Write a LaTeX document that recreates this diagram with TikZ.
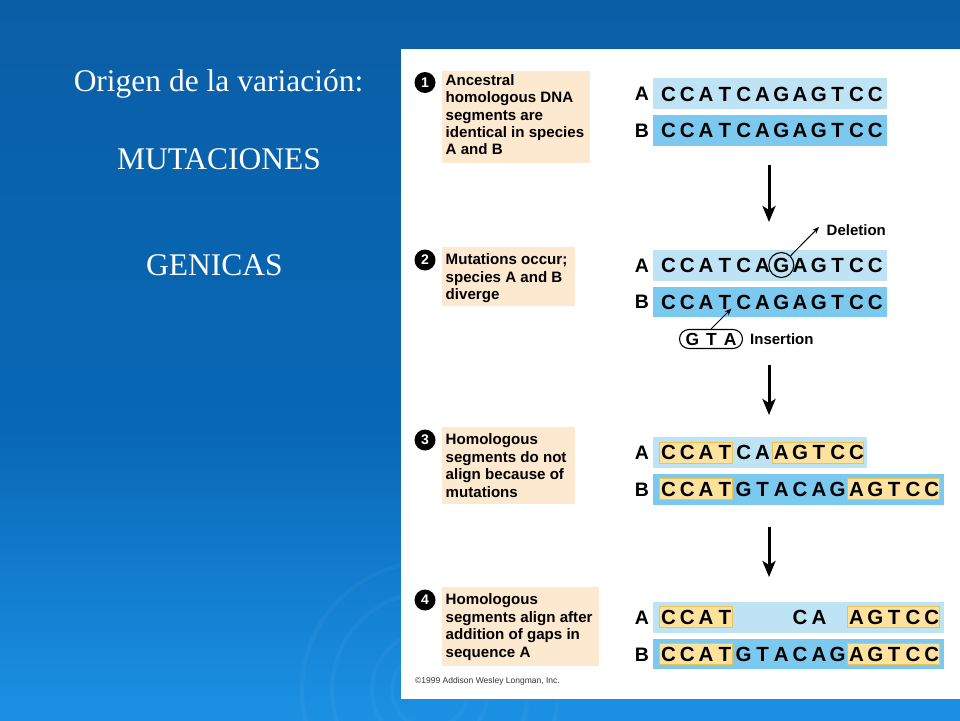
\documentclass[tikz,border=0pt]{standalone}
\usepackage{fontspec}
\setmainfont{Liberation Serif}
\newfontfamily\arial{Liberation Sans}
\usetikzlibrary{arrows.meta,shapes.misc}

\definecolor{bgtop}{HTML}{0A5EA6}
\definecolor{bgmid}{HTML}{0868B6}
\definecolor{bgbot}{HTML}{1C91E4}
\definecolor{tanfill}{HTML}{FDE8D0}
\definecolor{rowAfill}{HTML}{BDE3F5}
\definecolor{rowBfill}{HTML}{7BC9EE}
\definecolor{hifill}{HTML}{FCE29C}
\definecolor{hidraw}{HTML}{EEC150}

\newcommand{\seqrow}[3]{\foreach \ch/\p in {#3}{\node[seqtxt] (#1-\p) at ({668.5+18.8*\p},{#2+7.3}) {\ch};}}
\newcommand{\hlbox}[3]{\fill[hilite] ({668.5+18.8*#2-9.3},{#1-10.5}) rectangle ({668.5+18.8*#3+7.3},{#1+10.5});}
\newcommand{\tanlines}[4]{\foreach \t [count=\k from 0] in {#4}{\node[tantext] (#1-\k) at (445.5,{#2+#3*\k}) {\t};}}

\begin{document}
\begin{tikzpicture}[x=1pt,y=-1pt,
  titletxt/.style={text=white,font=\fontsize{31.5}{33}\selectfont,anchor=base,inner sep=0pt},
  tantext/.style={font=\arial\bfseries\fontsize{15.1}{17}\selectfont,anchor=base west,inner sep=0pt},
  tanbox/.style={fill=tanfill},
  stepnum/.style={circle,fill=black,text=white,font=\arial\bfseries\fontsize{14}{14}\selectfont,minimum size=21pt,inner sep=0pt},
  seqtxt/.style={font=\arial\bfseries\fontsize{20.5}{21}\selectfont,anchor=base,inner sep=0pt},
  labtxt/.style={font=\arial\bfseries\fontsize{19.5}{20}\selectfont,anchor=base,inner sep=0pt},
  rowa/.style={fill=rowAfill},
  rowb/.style={fill=rowBfill},
  hilite/.style={fill=hifill,draw=hidraw,line width=0.8pt},
  bigarrow/.style={line width=3pt,-{Stealth[length=16pt,width=13pt,inset=4pt]}},
  thinarrow/.style={line width=1pt,-{Stealth[length=7pt,width=5.5pt]}},
  notetxt/.style={font=\arial\bfseries\fontsize{15}{16}\selectfont,anchor=west,inner sep=0pt}
]
\useasboundingbox (0,0) rectangle (960,720);
% background
\shade[top color=bgtop,bottom color=bgmid] (0,0) rectangle (960,431);
\shade[top color=bgmid,bottom color=bgbot] (0,430) rectangle (960,720);
\begin{scope}
  \clip (0,0) rectangle (960,720);
  \foreach \r in {38,58,98,128}
    \draw[white,opacity=0.035,line width=4pt] (430,690) circle (\r);
\end{scope}

% left titles
\node[titletxt] (t1) at (218.5,91.7) {Origen de la variación:};
\node[titletxt] (t2) at (219,169.3) {MUTACIONES};
\node[titletxt] (t3) at (214.5,275) {GENICAS};

% white panel
\fill[white] (401,49) rectangle (960,699);

% ---- step 1
\fill[tanbox] (441.5,70.5) rectangle (590,163);
\node[stepnum] (n1) at (425,82.5) {1};
\tanlines{d1}{85.7}{17.2}{Ancestral,homologous DNA,segments are,identical in species,A and B}
\fill[rowa] (653,78.2) rectangle (887,109.2);
\fill[rowb] (653,114.5) rectangle (887,145.5);
\node[labtxt] (l1A) at (642,100.9) {A};
\node[labtxt] (l1B) at (642,137.2) {B};
\seqrow{s1A}{93.7}{C/0,C/1,A/2,T/3,C/4,A/5,G/6,A/7,G/8,T/9,C/10,C/11}
\seqrow{s1B}{130}{C/0,C/1,A/2,T/3,C/4,A/5,G/6,A/7,G/8,T/9,C/10,C/11}

\coordinate (a1s) at (769,165);
\coordinate (a1e) at (769,222);
\draw[bigarrow] (a1s) -- (a1e);

% ---- step 2
\fill[tanbox] (441.5,247) rectangle (575,306);
\node[stepnum] (n2) at (425,260) {2};
\tanlines{d2}{264.5}{17.5}{Mutations occur;,species A and B,diverge}
\fill[rowa] (653,249.8) rectangle (887,280.5);
\fill[rowb] (653,286.5) rectangle (887,317);
\node[labtxt] (l2A) at (642,272.2) {A};
\node[labtxt] (l2B) at (642,308.9) {B};
\seqrow{s2A}{265}{C/0,C/1,A/2,T/3,C/4,A/5,G/6,A/7,G/8,T/9,C/10,C/11}
\seqrow{s2B}{301.7}{C/0,C/1,A/2,T/3,C/4,A/5,G/6,A/7,G/8,T/9,C/10,C/11}
\node[circle,draw=black,line width=1.1pt,minimum size=25pt,inner sep=0pt] (gc) at (781.3,265) {};
\node[notetxt] (del) at (826.5,230) {Deletion};
\coordinate (deltip) at (819,227);
\draw[thinarrow] (gc.45) -- (deltip);
\node[rounded rectangle,draw=black,line width=1.1pt,minimum height=19pt,minimum width=63pt,inner sep=0pt,
      font=\arial\bfseries\fontsize{17.5}{18}\selectfont] (gta) at (711,339) {G\hspace{7pt}T\hspace{7pt}A};
\node[notetxt] (ins) at (750,339) {Insertion};
\coordinate (instip) at (731.5,308.5);
\draw[thinarrow] (gta.north) -- (instip);

\coordinate (a2s) at (769,365);
\coordinate (a2e) at (769,415);
\draw[bigarrow] (a2s) -- (a2e);

% ---- step 3
\fill[tanbox] (441.5,427) rectangle (575,503.5);
\node[stepnum] (n3) at (425,440) {3};
\tanlines{d3}{444.5}{17.5}{Homologous,segments do not,align because of,mutations}
\fill[rowa] (653,437) rectangle (867,468);
\fill[rowb] (653,474) rectangle (944,504.5);
\node[labtxt] (l3A) at (642,459.7) {A};
\node[labtxt] (l3B) at (642,496.2) {B};
\hlbox{452.5}{0}{3}
\hlbox{452.5}{6}{10}
\hlbox{489}{0}{3}
\hlbox{489}{10}{14}
\seqrow{s3A}{452.5}{C/0,C/1,A/2,T/3,C/4,A/5,A/6,G/7,T/8,C/9,C/10}
\seqrow{s3B}{489}{C/0,C/1,A/2,T/3,G/4,T/5,A/6,C/7,A/8,G/9,A/10,G/11,T/12,C/13,C/14}

\coordinate (a3s) at (769,527);
\coordinate (a3e) at (769,577);
\draw[bigarrow] (a3s) -- (a3e);

% ---- step 4
\fill[tanbox] (441.5,586.7) rectangle (599,666);
\node[stepnum] (n4) at (425,600) {4};
\tanlines{d4}{604.5}{17.5}{Homologous,segments align after,addition of gaps in,sequence A}
\fill[rowa] (653,602) rectangle (944,632.5);
\fill[rowb] (653,639) rectangle (944,669);
\node[labtxt] (l4A) at (642,624.2) {A};
\node[labtxt] (l4B) at (642,661.2) {B};
\hlbox{617}{0}{3}
\hlbox{617}{10}{14}
\hlbox{654}{0}{3}
\hlbox{654}{10}{14}
\seqrow{s4A}{617}{C/0,C/1,A/2,T/3,C/7,A/8,A/10,G/11,T/12,C/13,C/14}
\seqrow{s4B}{654}{C/0,C/1,A/2,T/3,G/4,T/5,A/6,C/7,A/8,G/9,A/10,G/11,T/12,C/13,C/14}

\node[font=\arial\fontsize{8.5}{9}\selectfont,text=black!80,anchor=west,inner sep=0pt] (cpy) at (415,681) {©1999 Addison Wesley Longman, Inc.};
\end{tikzpicture}
\end{document}
